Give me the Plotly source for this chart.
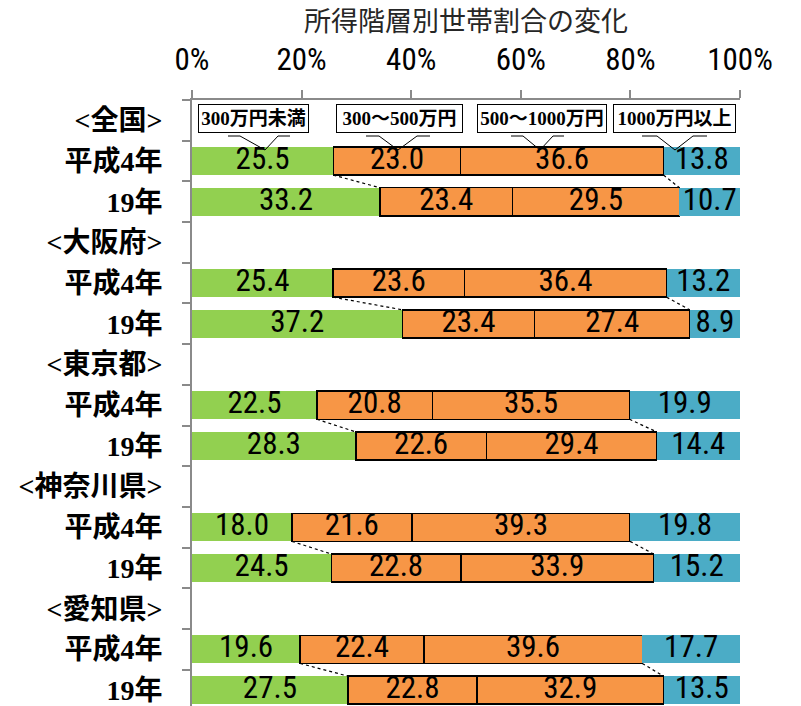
import plotly.graph_objects as go

# ---------------- data ----------------
row_labels = ["<全国>", "平成4年", "19年",
              "<大阪府>", "平成4年", "19年",
              "<東京都>", "平成4年", "19年",
              "<神奈川県>", "平成4年", "19年",
              "<愛知県>", "平成4年", "19年"]

under_300 = [None, 25.5, 33.2, None, 25.4, 37.2, None, 22.5, 28.3, None, 18.0, 24.5, None, 19.6, 27.5]
from_300_to_500 = [None, 23.0, 23.4, None, 23.6, 23.4, None, 20.8, 22.6, None, 21.6, 22.8, None, 22.4, 22.8]
from_500_to_1000 = [None, 36.6, 29.5, None, 36.4, 27.4, None, 35.5, 29.4, None, 39.3, 33.9, None, 39.6, 32.9]
over_1000 = [None, 13.8, 10.7, None, 13.2, 8.9, None, 19.9, 14.4, None, 19.8, 15.2, None, 17.7, 13.5]

series_names = ["300万円未満", "300～500万円", "500～1000万円", "1000万円以上"]
x_tick_values = [0, 20, 40, 60, 80, 100]
title_text = "所得階層別世帯割合の変化"

# ---------------- style ----------------
GREEN = "#92D050"
ORANGE = "#F79646"
BLUE = "#4BACC6"
AXIS = "#8A8A8A"
# "fantasy" marker -> condensed stretch applied through a small stylesheet
NUM_FONT = "Roboto, fantasy"
LABEL_FONT = "Liberation Serif, Noto Sans CJK JP, serif"
TITLE_FONT = "Noto Sans CJK JP, sans-serif"

W, H = 801, 706
ML, MR, MT, MB = 192, 61, 100, 0
PW, PH = W - ML - MR, H - MT - MB
BAR_W = 0.69

rows = list(range(len(row_labels)))
all_series = [under_300, from_300_to_500, from_500_to_1000, over_1000]
colors = [GREEN, ORANGE, ORANGE, BLUE]
outlined = [False, True, True, False]

fig = go.Figure()
for name, vals, color, outline in zip(series_names, all_series, colors, outlined):
    fig.add_trace(go.Bar(
        name=name, y=rows, x=vals, orientation="h", width=BAR_W,
        marker=dict(color=color,
                    line=dict(color="black" if outline else color,
                              width=1.5 if outline else 0)),
        hoverinfo="skip", showlegend=False,
    ))

# value labels at the centre of each (100%-normalised) segment
lab_x, lab_y, lab_t = [], [], []
for i in rows:
    vals = [s[i] for s in all_series]
    if vals[0] is None:
        continue
    tot = sum(vals)
    cum = 0.0
    for v in vals:
        lab_x.append(100 * (cum + v / 2) / tot)
        lab_y.append(i)
        lab_t.append(f"{v:.1f}")
        cum += v
fig.add_trace(go.Scatter(
    x=lab_x, y=lab_y, text=lab_t, mode="text", textposition="middle center",
    textfont=dict(family=NUM_FONT, size=31, color="black"),
    cliponaxis=False, hoverinfo="skip", showlegend=False))

# invisible trace to carry the boundary-tick axis
fig.add_trace(go.Scatter(x=[None], y=[None], yaxis="y2", showlegend=False, hoverinfo="skip"))

# dashed connectors between consecutive years (computed from data, 100% normalised)
shapes = []
def bounds(i):
    vals = [s[i] for s in all_series]
    tot = sum(vals)
    return 100 * vals[0] / tot, 100 * (vals[0] + vals[1] + vals[2]) / tot

for i in rows:
    if under_300[i] is not None and i + 1 < len(rows) and under_300[i + 1] is not None:
        a = bounds(i)
        b = bounds(i + 1)
        for k in range(2):
            shapes.append(dict(type="line", xref="x", yref="y",
                               x0=a[k], y0=i + BAR_W / 2, x1=b[k], y1=i + 1 - BAR_W / 2,
                               line=dict(color="black", width=1.2, dash="3px,3px"), layer="above"))

# callout boxes (pixel positions converted to paper coordinates)
def px(xp):
    return (xp - ML) / PW
def py(yp):
    return (H - MB - yp) / PH

callouts = [  # left, right, wedge points (stubL, vL, tip, vR, stubR)
    (198, 309, (228, 240, 265, 278, 290)),
    (336, 463, (366, 379, 398, 417, 430)),
    (477, 607, (511, 523, 540, 553, 564)),
    (613, 736, (642, 657, 675, 693, 707)),
]
BOX_TOP, BOX_BOT = 104, 133
annotations = []
for (l, r, wp), name in zip(callouts, series_names):
    annotations.append(dict(
        xref="paper", yref="paper", x=px((l + r) / 2), y=py((BOX_TOP + BOX_BOT) / 2),
        xanchor="center", yanchor="middle", showarrow=False,
        text=name, width=r - l - 2, height=BOX_BOT - BOX_TOP - 2,
        bgcolor="white", bordercolor="black", borderwidth=1, borderpad=0,
        font=dict(family=LABEL_FONT, size=19, color="black", weight="bold"),
    ))
    yb, yt = 136, 150
    path = (f"M {px(wp[0])},{py(yb)} L {px(wp[1])},{py(yb)} L {px(wp[2])},{py(yt)} "
            f"L {px(wp[3])},{py(yb)} L {px(wp[4])},{py(yb)}")
    shapes.append(dict(type="path", xref="paper", yref="paper", path=path,
                       line=dict(color="black", width=1), layer="above"))

annotations.append(dict(
    xref="paper", yref="paper", x=0.5, y=py(20), xanchor="center", yanchor="middle",
    showarrow=False, text=title_text,
    font=dict(family=TITLE_FONT, size=27, color="#262626")))

fig.update_layout(
    width=W, height=H, margin=dict(l=ML, r=MR, t=MT, b=MB, pad=0),
    paper_bgcolor="white", plot_bgcolor="white",
    barmode="stack", barnorm="percent",
    xaxis=dict(side="top", range=[0, 100], tickvals=x_tick_values,
               ticktext=[f"{v}%" for v in x_tick_values],
               ticks="outside", ticklen=8, tickwidth=1.5, tickcolor=AXIS,
               showline=True, linecolor=AXIS, linewidth=1.5,
               showgrid=False, zeroline=False, ticklabelstandoff=8,
               tickfont=dict(family=NUM_FONT, size=31, color="black")),
    yaxis=dict(range=[14.39, -0.5], tickvals=rows, ticktext=row_labels,
               ticks="", showline=True, linecolor=AXIS, linewidth=2,
               showgrid=False, zeroline=False, ticklabelstandoff=22,
               tickfont=dict(family=LABEL_FONT, size=28, color="black", weight="bold")),
    yaxis2=dict(overlaying="y", matches="y", side="left",
                tickvals=[r - 0.5 for r in rows], ticks="outside", ticklen=9,
                tickwidth=1.5, tickcolor=AXIS, showticklabels=False,
                showline=False, showgrid=False, zeroline=False),
    shapes=shapes, annotations=annotations,
)

post_js = ("document.body.style.margin='0';"
           "var st=document.createElement('style');"
           "st.textContent='text[style*=\"fantasy\"]{font-stretch:condensed !important;}';"
           "document.head.appendChild(st);")
fig.write_html("out.html", post_script=post_js, config={"displayModeBar": False})
